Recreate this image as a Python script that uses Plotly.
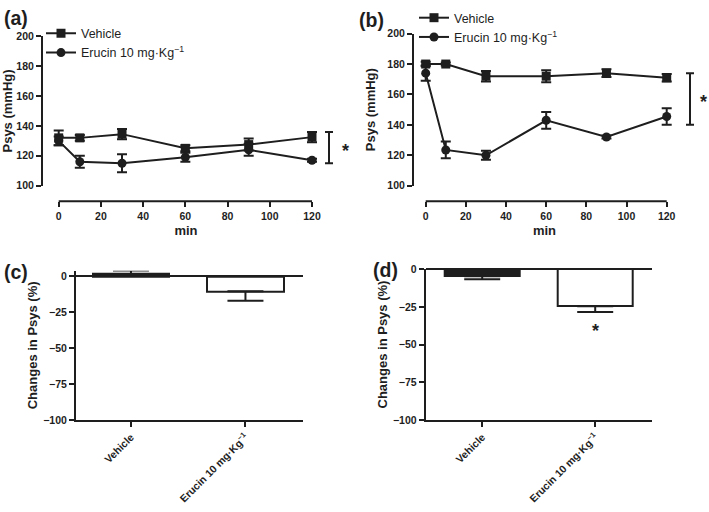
import plotly.graph_objects as go

# ---------------- data ----------------
time_min = [0, 10, 30, 60, 90, 120]
time_ticks = [0, 20, 40, 60, 80, 100, 120]
psys_ticks = [100, 120, 140, 160, 180, 200]
change_ticks = [0, -25, -50, -75, -100]
change_ticklabels = ["0", "−25", "−50", "−75", "−100"]

series_names = ["Vehicle", "Erucin 10 mg·Kg<sup>−1</sup>"]

a_vehicle = [132, 132, 134.5, 125, 127.5, 132.5]
a_vehicle_sem = [5, 2, 3.5, 2, 4, 3.5]
a_erucin = [130, 116, 115, 119, 124, 117]
a_erucin_sem = [3, 4, 6, 3, 4, 1]
a_sig_range = [115, 136]

b_vehicle = [180, 180, 172, 172, 174, 171]
b_vehicle_sem = [1.5, 1, 3.5, 4, 2.5, 2.5]
b_erucin = [174, 123.5, 120, 143, 132, 145.5]
b_erucin_sem = [5, 5.5, 3, 5.5, 1, 5.5]
b_sig_range = [140, 174]

bar_groups = ["Vehicle", "Erucin 10 mg·Kg<sup>−1</sup>"]
c_change = [1.5, -10.5]
c_sem = [2.5, 6.5]
d_change = [-4.5, -24.4]
d_sem = [2, 3.8]

# ---------------- helpers ----------------
W, H = 709, 512
FONT = "Liberation Sans, Arial, sans-serif"
INK = "#1e1e1e"


def px(p):
    return p / W


def py(p):
    return 1 - p / H


tickfont = dict(family=FONT, size=10.5, color=INK, weight="bold")
titlefont = dict(family=FONT, size=13, color=INK, weight="bold")

fig = go.Figure()

# ---------------- line panels ----------------
def add_lines(xa, ya, veh, veh_sem, eru, eru_sem, legend):
    fig.add_trace(go.Scatter(
        x=time_min, y=veh, name=series_names[0], mode="lines+markers",
        xaxis=xa, yaxis=ya, legend=legend, cliponaxis=False,
        line=dict(color=INK, width=2),
        marker=dict(symbol="square", size=9, color=INK),
        error_y=dict(type="data", array=veh_sem, color=INK, thickness=2, width=5),
    ))
    fig.add_trace(go.Scatter(
        x=time_min, y=eru, name=series_names[1], mode="lines+markers",
        xaxis=xa, yaxis=ya, legend=legend, cliponaxis=False,
        line=dict(color=INK, width=2),
        marker=dict(symbol="circle", size=9, color=INK),
        error_y=dict(type="data", array=eru_sem, color=INK, thickness=2, width=5),
    ))


add_lines("x", "y", a_vehicle, a_vehicle_sem, a_erucin, a_erucin_sem, "legend")
add_lines("x2", "y2", b_vehicle, b_vehicle_sem, b_erucin, b_erucin_sem, "legend2")


# ---------------- bar panels ----------------
def add_bars(xa, ya, vals, sems):
    plus = [s if v >= 0 else 0 for v, s in zip(vals, sems)]
    minus = [s if v < 0 else 0 for v, s in zip(vals, sems)]
    fig.add_trace(go.Bar(
        x=bar_groups, y=vals, xaxis=xa, yaxis=ya, showlegend=False,
        width=0.67,
        marker=dict(color=[INK, "white"], line=dict(color=INK, width=2)),
        error_y=dict(type="data", symmetric=False, array=plus, arrayminus=minus,
                     color=INK, thickness=2, width=18),
    ))


add_bars("x3", "y3", c_change, c_sem)
add_bars("x4", "y4", d_change, d_sem)

# ---------------- axes ----------------
common = dict(showgrid=False, zeroline=False, ticks="outside", ticklen=5,
              tickwidth=2, tickcolor=INK, linecolor=INK, linewidth=2,
              tickfont=tickfont)

# panel (a): 0 min at 58.7 px, 120 min at 312 px
fig.update_layout(
    xaxis=dict(common, domain=[px(42), px(330)], range=[-(58.7 - 42) / 2.111, 120 + (330 - 312) / 2.111],
               anchor="free", position=py(200), showline=False, tickvals=time_ticks,
               title=dict(text="min", font=titlefont, standoff=4)),
    yaxis=dict(common, domain=[py(184), py(31)], range=[100, 200], anchor="free",
               position=px(42), showline=True, tickvals=psys_ticks,
               title=dict(text="Psys (mmHg)", font=titlefont, standoff=4)),
    xaxis2=dict(common, domain=[px(413), px(676)], range=[-(425.7 - 413) / 2.008, 120 + (676 - 666.7) / 2.008],
                anchor="free", position=py(200), showline=False, tickvals=time_ticks,
                title=dict(text="min", font=titlefont, standoff=4)),
    yaxis2=dict(common, domain=[py(184), py(28.3)], range=[100, 200], anchor="free",
                position=px(413), showline=True, tickvals=psys_ticks,
                title=dict(text="Psys (mmHg)", font=titlefont, standoff=8)),
    xaxis3=dict(common, domain=[px(76), px(302.7)], range=[-0.48, 1.5], anchor="y3",
                showline=True, tickangle=-45, type="category"),
    yaxis3=dict(common, domain=[py(424), py(271)], range=[-100, 3.9], anchor="x3",
                showline=True, tickvals=change_ticks, ticktext=change_ticklabels,
                zeroline=True, zerolinecolor=INK, zerolinewidth=1.5,
                title=dict(text="Changes in Psys (%)", font=titlefont, standoff=3)),
    xaxis4=dict(common, domain=[px(425.7), px(651.7)], range=[-0.5, 1.5], anchor="y4",
                showline=True, tickangle=-45, type="category"),
    yaxis4=dict(common, domain=[py(424), py(269.3)], range=[-100, 0.3], anchor="x4",
                showline=True, tickvals=change_ticks, ticktext=change_ticklabels,
                zeroline=True, zerolinecolor=INK, zerolinewidth=1.5,
                title=dict(text="Changes in Psys (%)", font=titlefont, standoff=2)),
)

# x-axis lines spanning only 0..120 min (GraphPad-style detached axes)
for xa, ypos in (("x", 200), ("x2", 200)):
    fig.add_shape(type="line", xref=xa, yref="paper", x0=time_ticks[0], x1=time_ticks[-1],
                  y0=py(ypos), y1=py(ypos), line=dict(color=INK, width=2))

# significance brackets
def bracket(yref, xpx, rng, cap=4):
    fig.add_shape(type="line", xref="paper", yref=yref, x0=px(xpx), x1=px(xpx),
                  y0=rng[0], y1=rng[1], line=dict(color=INK, width=2))
    for v in rng:
        fig.add_shape(type="line", xref="paper", yref=yref, x0=px(xpx - cap), x1=px(xpx + cap),
                      y0=v, y1=v, line=dict(color=INK, width=2))


bracket("y", 329, a_sig_range)
bracket("y2", 690, b_sig_range)

star = dict(family=FONT, size=18, color=INK, weight="bold")
fig.add_annotation(xref="paper", yref="y", x=px(345), y=sum(a_sig_range) / 2 - 2, text="*",
                   showarrow=False, font=star, xanchor="center")
fig.add_annotation(xref="paper", yref="y2", x=px(703), y=sum(b_sig_range) / 2 - 2, text="*",
                   showarrow=False, font=star, xanchor="center")
fig.add_annotation(xref="x4", yref="y4", x=bar_groups[1], y=d_change[1] - d_sem[1] - 13, text="*",
                   showarrow=False, font=star)

# panel letters
lab = dict(family=FONT, size=19.5, color=INK, weight="bold")
for t, xx, yy in (("(a)", 2, 12), ("(b)", 357, 14), ("(c)", 2, 272), ("(d)", 371, 270)):
    fig.add_annotation(xref="paper", yref="paper", x=px(xx), y=py(yy), text=t, showarrow=False,
                       xanchor="left", yanchor="middle", font=lab)

legfont = dict(family=FONT, size=12.5, color=INK)
fig.update_layout(
    width=W, height=H, margin=dict(l=0, r=0, t=0, b=0),
    paper_bgcolor="white", plot_bgcolor="white",
    legend=dict(x=px(41), y=py(13), xanchor="left", yanchor="top", font=legfont,
                bgcolor="rgba(0,0,0,0)", itemwidth=30, tracegroupgap=0),
    legend2=dict(x=px(414), y=py(-3), xanchor="left", yanchor="top", font=legfont,
                 bgcolor="rgba(0,0,0,0)", itemwidth=30, tracegroupgap=0),
    bargap=0,
)

fig.write_html(
    "out.html",
    config={"displayModeBar": False},
    post_script="document.body.style.margin='0';document.body.style.overflow='hidden';",
)
